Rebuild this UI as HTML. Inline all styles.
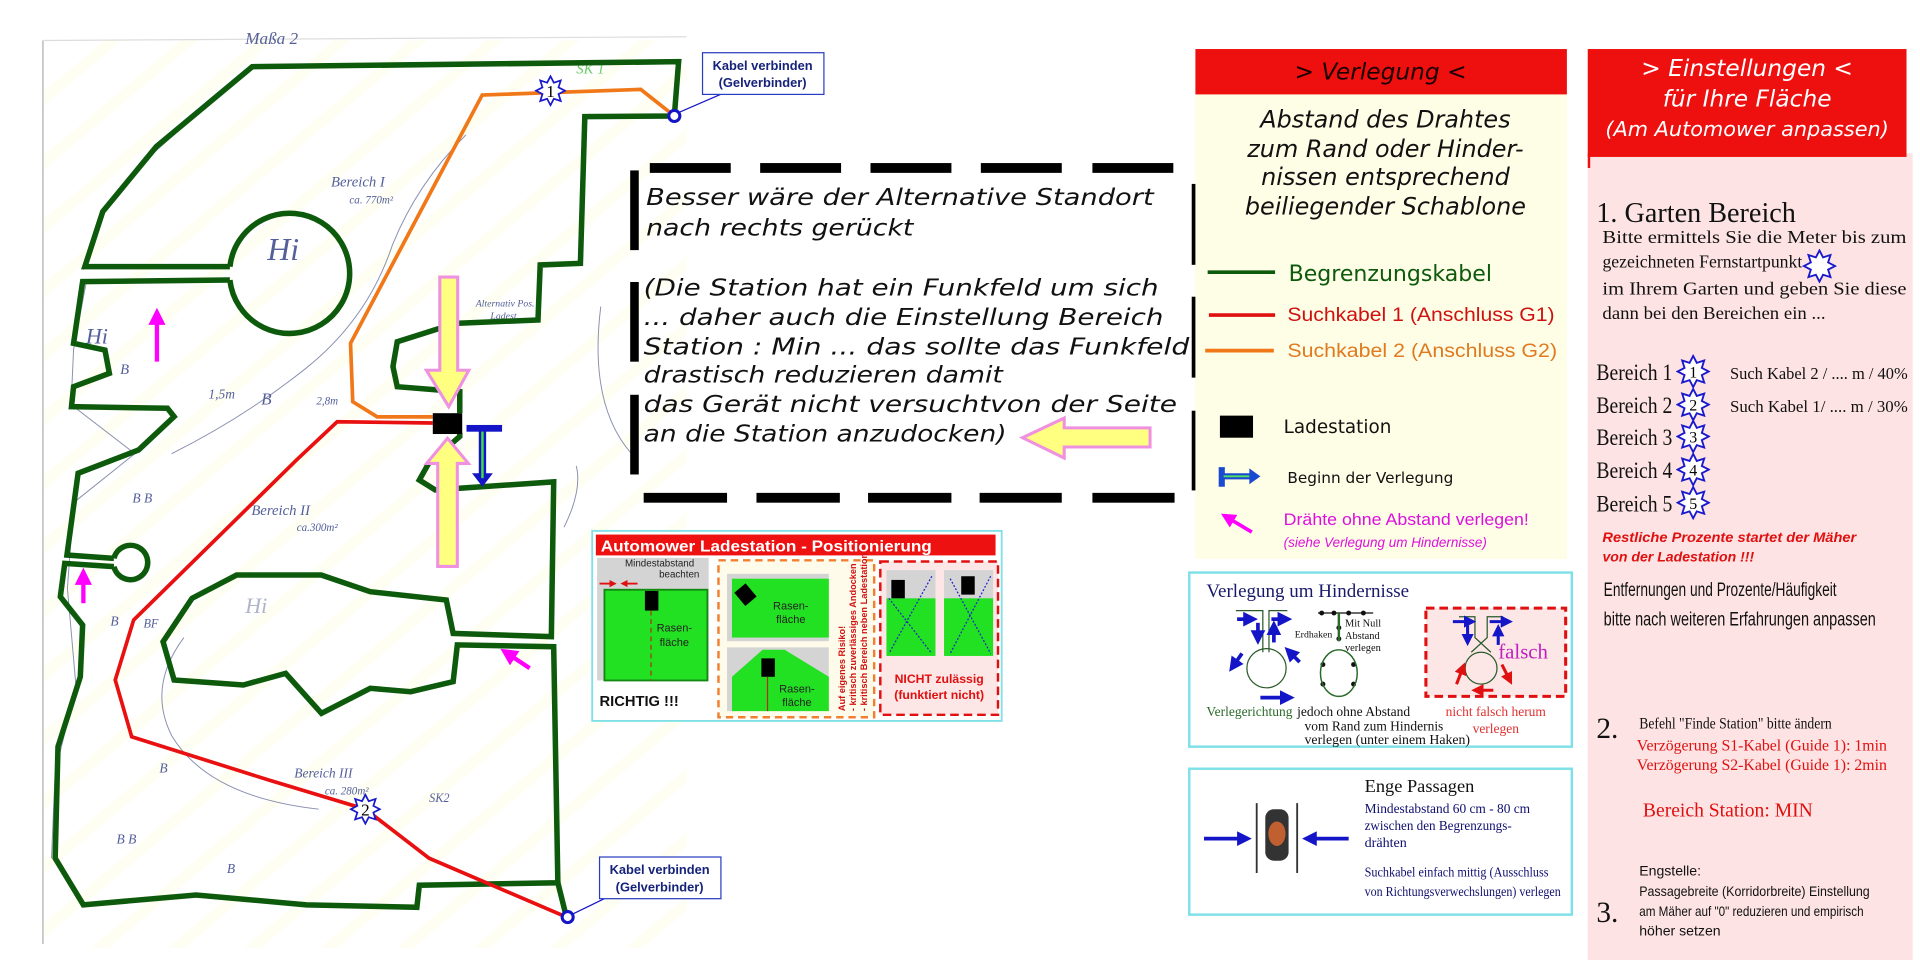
<!DOCTYPE html>
<html><head><meta charset="utf-8"><style>
html,body{margin:0;padding:0;background:#fff;width:1920px;height:960px;overflow:hidden}
svg{display:block}
.s{font-family:"DejaVu Sans","Liberation Sans",sans-serif}
.l{font-family:"Liberation Sans",sans-serif}
.r{font-family:"Liberation Serif",serif}
</style></head><body>
<svg width="1920" height="960" viewBox="0 0 1566 783" xmlns="http://www.w3.org/2000/svg">
<defs>
<symbol id="st" viewBox="-1.1 -1.1 2.2 2.2"><polygon points="0,-1 0.23,-0.554 0.707,-0.707 0.554,-0.23 1,0 0.554,0.23 0.707,0.707 0.23,0.554 0,1 -0.23,0.554 -0.707,0.707 -0.554,0.23 -1,0 -0.554,-0.23 -0.707,-0.707 -0.23,-0.554" fill="#fff" stroke="#1a1acc" stroke-width="0.12"/></symbol>
<pattern id="stripe" width="40" height="40" patternUnits="userSpaceOnUse" patternTransform="rotate(-40)"><rect width="40" height="40" fill="#fff"/><rect width="40" height="9" fill="#fefef2"/></pattern>
<marker id="mh" markerWidth="4" markerHeight="4" refX="2" refY="2" orient="auto"><path d="M0,0 L4,2 L0,4z" fill="#ff00ff"/></marker>
<marker id="bh" markerWidth="4" markerHeight="4" refX="2" refY="2" orient="auto"><path d="M0,0 L4,2 L0,4z" fill="#1515c8"/></marker>
<marker id="rh" markerWidth="4" markerHeight="4" refX="2" refY="2" orient="auto"><path d="M0,0 L4,2 L0,4z" fill="#e01010"/></marker>
</defs>

<rect x="35" y="33" width="525" height="740" fill="url(#stripe)"/>
<line x1="35" y1="33" x2="35" y2="770" stroke="#c8c8c8" stroke-width="1.5"/>
<line x1="35" y1="33" x2="560" y2="30" stroke="#ddd" stroke-width="1"/>

<g fill="none" stroke="#8a90b0" stroke-width="0.8">
<path d="M200,58 L125,125 L80,180 L68,220"/>
<path d="M70,232 L60,285 L58,330 L110,370 L60,410 L55,480 L62,560 L45,630 L42,700"/>
<path d="M140,370 Q200,340 250,300 Q300,260 320,200 Q340,150 380,110"/>
<path d="M150,520 Q120,560 140,600 Q170,650 260,660"/>
<path d="M490,250 Q480,330 515,370"/>
<path d="M460,430 Q475,400 470,380"/>
</g>
<g class="r" fill="#55609a" font-style="italic">
<text x="200" y="36" font-size="14">Maßa 2</text>
<text x="270" y="152" font-size="12">Bereich I</text>
<text x="285" y="166" font-size="9">ca. 770m²</text>
<text x="218" y="212" font-size="26">Hi</text>
<text x="70" y="280" font-size="18">Hi</text>
<text x="205" y="420" font-size="12">Bereich II</text>
<text x="242" y="433" font-size="9">ca.300m²</text>
<text x="200" y="500" font-size="18" fill="#b0b4c8">Hi</text>
<text x="117" y="512" font-size="10">BF</text>
<text x="240" y="634" font-size="11">Bereich III</text>
<text x="265" y="648" font-size="9">ca. 280m²</text>
<text x="350" y="654" font-size="10">SK2</text>
<text x="108" y="410" font-size="11">B  B</text>
<text x="90" y="510" font-size="11">B</text>
<text x="130" y="630" font-size="11">B</text>
<text x="95" y="688" font-size="11">B  B</text>
<text x="185" y="712" font-size="11">B</text>
<text x="170" y="325" font-size="11">1,5m</text>
<text x="213" y="330" font-size="14">B</text>
<text x="258" y="330" font-size="9">2,8m</text>
<text x="388" y="250" font-size="8">Alternativ Pos.</text>
<text x="400" y="260" font-size="8">Ladest.</text>
<text x="470" y="60" font-size="12" fill="#6c6">SK 1</text>
<text x="98" y="305" font-size="12">B</text>
</g>

<g fill="none" stroke="#0d5a0d" stroke-width="4.5" stroke-linejoin="miter">
<path d="M187.5,217.5 L69.2,217.5 L83.8,172.6 L127.5,119.6 L205.7,54.4 L553.5,50.3 L550,94.6 L477,95.1 L473.4,214.8 L440.6,216.1 L438.8,261 L371.4,263.7 L324,278.7 L320.5,299 L324,315.4 L375,319.5 L375,337"/>
<path d="M375,353 L375,356 L349.6,378 L342,391.5 L355,399.6 L451.6,393 L449.7,519.3 L369.6,516.6 L364,489.4 L302,482.6 L262,469 L193,469 L156.6,488 L133,523.4 L142,554.6 L198.5,558.7 L233,549.2 L262.2,581.8 L302,561.4 L335,564.2 L369.6,556 L373,526 L451.6,527.5 L455,720 L342,722 L340,740 L250,738 L160,730 L68,738 L45,700 L47.3,609 L65.5,552 L67.4,509.8 L49.2,486.7 L52.8,459.5 L92.9,462.2"/>
<path d="M92.9,455.4 L54.6,452.7 L63.7,386 L113,367 L142,339.8 L136.6,333 L58.3,331.7 L60,315.4 L89.2,304.5 L85.6,285.5 L60,280 L67.4,229.7 L187.5,228.4"/>
<path d="M187.5,217.5 A49,49 0 1 1 187.5,228.4"/>
<path d="M92.9,455.4 A14,14 0 1 1 92.9,462.2"/>
</g>
<line x1="455" y1="720" x2="462" y2="748" stroke="#0d5a0d" stroke-width="4.5"/>

<polyline points="353,340 307.7,340 287.7,327.6 285.9,280 393.3,77.5 522.6,72.9 550,94.6" fill="none" stroke="#f07818" stroke-width="3"/>
<polyline points="353,345 275,344 242,375 109,505.7 94,554.6 107.4,600.9 218.5,636 298,660 350,700 462,748" fill="none" stroke="#e81010" stroke-width="3"/>

<use href="#st" x="436" y="61" width="26" height="26"/>
<text x="449" y="79" class="r" font-size="14" text-anchor="middle">1</text>
<use href="#st" x="285" y="647" width="26" height="26"/>
<text x="298" y="665" class="r" font-size="14" text-anchor="middle">2</text>

<circle cx="550" cy="94.6" r="4.5" fill="#fff" stroke="#1515c8" stroke-width="2.5"/>
<line x1="553" y1="92" x2="590" y2="76" stroke="#1515c8" stroke-width="1"/>
<rect x="573" y="43" width="99" height="34" fill="#fff" stroke="#2a3cc0" stroke-width="1"/>
<text x="622" y="57" class="l" font-size="10.5" font-weight="bold" fill="#16237a" text-anchor="middle">Kabel verbinden</text>
<text x="622" y="71" class="l" font-size="10.5" font-weight="bold" fill="#16237a" text-anchor="middle">(Gelverbinder)</text>
<circle cx="463" cy="748" r="4.5" fill="#fff" stroke="#1515c8" stroke-width="2.5"/>
<line x1="466" y1="746" x2="495" y2="732" stroke="#1515c8" stroke-width="1"/>
<rect x="489" y="699" width="99" height="34" fill="#fff" stroke="#2a3cc0" stroke-width="1"/>
<text x="538" y="713" class="l" font-size="10.5" font-weight="bold" fill="#16237a" text-anchor="middle">Kabel verbinden</text>
<text x="538" y="727" class="l" font-size="10.5" font-weight="bold" fill="#16237a" text-anchor="middle">(Gelverbinder)</text>

<polygon points="358.7,226 373.3,226 373.3,302 382.4,302 366,331.7 347.8,302 358.7,302" fill="#ffff80" stroke="#f090e0" stroke-width="2.5"/>
<polygon points="357,462 373,462 373,378 382,378 365,357.5 348,378 357,378" fill="#ffff80" stroke="#f090e0" stroke-width="2.5"/>
<rect x="353" y="337" width="24" height="17" fill="#000"/>
<rect x="380.5" y="346.6" width="29" height="5.5" fill="#1515c8"/>
<rect x="390.5" y="350" width="6" height="38" fill="#1515c8"/>
<polygon points="385,386 402,386 393.5,397" fill="#1515c8"/>
<line x1="393.5" y1="352" x2="393.5" y2="390" stroke="#40e040" stroke-width="2"/>
<polygon points="938,349 938,364.6 868,364.6 868,373.6 834,357 868,341 868,349" fill="#ffff80" stroke="#f090e0" stroke-width="2.5"/>
<g stroke="#ff00ff" stroke-width="3.5" fill="none">
<line x1="128" y1="295" x2="128" y2="258" marker-end="url(#mh)"/>
<line x1="68" y1="492" x2="68" y2="470" marker-end="url(#mh)"/>
<line x1="432" y1="545" x2="414" y2="533" marker-end="url(#mh)"/>
</g>

<g fill="#000">
<rect x="530" y="133" width="66" height="8"/><rect x="620" y="133" width="66" height="8"/><rect x="710" y="133" width="66" height="8"/><rect x="800" y="133" width="66" height="8"/><rect x="891" y="133" width="66" height="8"/>
<rect x="525" y="402" width="68" height="8"/><rect x="617" y="402" width="68" height="8"/><rect x="708" y="402" width="68" height="8"/><rect x="799" y="402" width="67" height="8"/><rect x="891" y="402" width="67" height="8"/>
<rect x="514" y="139" width="7" height="65"/><rect x="514" y="230" width="7" height="65"/><rect x="514" y="322" width="7" height="65"/>
<rect x="972" y="150" width="8" height="66"/><rect x="972" y="242" width="8" height="66"/><rect x="972" y="335" width="8" height="65"/>
</g>
<g class="s" font-style="italic" font-size="19" fill="#111">
<text x="527" y="167" textLength="414" lengthAdjust="spacingAndGlyphs">Besser wäre der Alternative Standort</text>
<text x="527" y="192" textLength="218" lengthAdjust="spacingAndGlyphs">nach rechts gerückt</text>
<text x="525" y="241" textLength="420" lengthAdjust="spacingAndGlyphs">(Die Station hat ein Funkfeld um sich</text>
<text x="525" y="265" textLength="424" lengthAdjust="spacingAndGlyphs">... daher auch die Einstellung Bereich</text>
<text x="525" y="289" textLength="445" lengthAdjust="spacingAndGlyphs">Station : Min ... das sollte das Funkfeld</text>
<text x="525" y="312" textLength="293" lengthAdjust="spacingAndGlyphs">drastisch reduzieren damit</text>
<text x="525" y="336" textLength="435" lengthAdjust="spacingAndGlyphs">das  Gerät nicht versuchtvon der Seite</text>
<text x="525" y="360" textLength="296" lengthAdjust="spacingAndGlyphs">an die Station anzudocken)</text>
</g>

<rect x="483" y="433" width="334" height="155" fill="#fff" stroke="#7fe0e8" stroke-width="1.5"/>
<rect x="486" y="436" width="326" height="17" fill="#ee1111"/>
<text x="625" y="450" class="l" font-size="13" font-weight="bold" fill="#fff" text-anchor="middle" textLength="270" lengthAdjust="spacingAndGlyphs">Automower Ladestation - Positionierung</text>
<rect x="487" y="455" width="91" height="100" fill="#d4d4d4"/>
<rect x="493" y="481" width="84" height="74" fill="#22e022" stroke="#118811" stroke-width="1.5"/>
<rect x="526" y="482" width="11" height="16" fill="#000"/>
<line x1="531" y1="498" x2="531" y2="555" stroke="#b03010" stroke-width="1" stroke-dasharray="4,3"/>
<text x="538" y="462" class="l" font-size="8" fill="#222" text-anchor="middle">Mindestabstand</text>
<text x="554" y="471" class="l" font-size="8" fill="#222" text-anchor="middle">beachten</text>
<line x1="489" y1="476" x2="500" y2="476" stroke="#e01010" stroke-width="1.5" marker-end="url(#rh)"/>
<line x1="520" y1="476" x2="509" y2="476" stroke="#e01010" stroke-width="1.5" marker-end="url(#rh)"/>
<text x="550" y="515" class="l" font-size="9" fill="#222" text-anchor="middle">Rasen-</text>
<text x="550" y="527" class="l" font-size="9" fill="#222" text-anchor="middle">fläche</text>
<text x="489" y="576" class="l" font-size="12" font-weight="bold" fill="#111">RICHTIG !!!</text>
<rect x="586" y="457" width="127" height="128" fill="#fffbea" stroke="#f08030" stroke-width="2" stroke-dasharray="6,4"/>
<rect x="593" y="468" width="83" height="55" fill="#d4d4d4"/>
<rect x="597" y="472" width="79" height="48" fill="#22e022"/>
<rect x="602" y="478" width="12" height="14" fill="#000" transform="rotate(-40 608 485)"/>
<text x="645" y="497" class="l" font-size="9" fill="#222" text-anchor="middle">Rasen-</text>
<text x="645" y="508" class="l" font-size="9" fill="#222" text-anchor="middle">fläche</text>
<rect x="593" y="528" width="83" height="52" fill="#d4d4d4"/>
<polygon points="597,552 622,530 640,530 676,552 676,580 597,580" fill="#22e022"/>
<rect x="621" y="537" width="11" height="15" fill="#000"/>
<line x1="626" y1="552" x2="626" y2="580" stroke="#b03010" stroke-width="1"/>
<text x="650" y="565" class="l" font-size="9" fill="#222" text-anchor="middle">Rasen-</text>
<text x="650" y="576" class="l" font-size="9" fill="#222" text-anchor="middle">fläche</text>
<g class="l" font-size="7.5" font-weight="bold" fill="#d01010">
<text transform="translate(689,580) rotate(-90)">Auf eigenes Risiko!</text>
<text transform="translate(698,580) rotate(-90)">- kritisch zuverlässiges Andocken</text>
<text transform="translate(707,580) rotate(-90)">- kritisch Bereich neben Ladestation</text>
</g>
<rect x="718" y="458" width="96" height="125" fill="#fde6e6" stroke="#e01010" stroke-width="2" stroke-dasharray="7,4"/>
<rect x="723" y="465" width="40" height="70" fill="#d4d4d4"/><rect x="723" y="488" width="40" height="47" fill="#22e022"/>
<rect x="727" y="473" width="11" height="15" fill="#000"/>
<line x1="725" y1="488" x2="760" y2="533" stroke="#1a1acc" stroke-dasharray="1.5,1.5"/><line x1="760" y1="470" x2="725" y2="533" stroke="#1a1acc" stroke-dasharray="1.5,1.5"/>
<rect x="770" y="465" width="40" height="70" fill="#d4d4d4"/><rect x="770" y="488" width="40" height="47" fill="#22e022"/>
<rect x="784" y="470" width="11" height="15" fill="#000"/>
<line x1="775" y1="472" x2="808" y2="533" stroke="#1a1acc" stroke-dasharray="1.5,1.5"/><line x1="808" y1="470" x2="775" y2="533" stroke="#1a1acc" stroke-dasharray="1.5,1.5"/>
<text x="766" y="557" class="l" font-size="10" font-weight="bold" fill="#e01010" text-anchor="middle">NICHT zulässig</text>
<text x="766" y="570" class="l" font-size="10" font-weight="bold" fill="#e01010" text-anchor="middle">(funktiert nicht)</text>

<rect x="975" y="76" width="303" height="380" fill="#fefde6"/>
<rect x="975" y="40" width="303" height="37" fill="#ee0f0f"/>
<text x="1126" y="65" class="s" font-style="italic" font-size="19" fill="#1a0000" text-anchor="middle">&gt; Verlegung &lt;</text>
<g class="s" font-style="italic" font-size="19.5" fill="#111" text-anchor="middle">
<text x="1130" y="104">Abstand des Drahtes</text>
<text x="1130" y="128">zum Rand oder Hinder-</text>
<text x="1130" y="151">nissen entsprechend</text>
<text x="1130" y="175">beiliegender Schablone</text>
</g>
<line x1="985" y1="222" x2="1040" y2="222" stroke="#0d5a0d" stroke-width="3"/>
<text x="1051" y="229" class="s" font-size="18" fill="#0d5a0d">Begrenzungskabel</text>
<line x1="986" y1="257" x2="1040" y2="257" stroke="#e01010" stroke-width="3"/>
<text x="1050" y="262" class="l" font-size="15.5" fill="#d01010" textLength="218" lengthAdjust="spacingAndGlyphs">Suchkabel 1 (Anschluss G1)</text>
<line x1="983" y1="286" x2="1039" y2="286" stroke="#f07818" stroke-width="3"/>
<text x="1050" y="291" class="l" font-size="15.5" fill="#e07a20" textLength="220" lengthAdjust="spacingAndGlyphs">Suchkabel 2 (Anschluss G2)</text>
<rect x="995" y="339" width="27" height="18" fill="#000"/>
<text x="1047" y="353" class="s" font-size="15" fill="#111">Ladestation</text>
<rect x="994" y="381" width="5" height="16" fill="#1a4ad0"/>
<rect x="998" y="386" width="22" height="5" fill="#1a4ad0"/><line x1="998" y1="388.5" x2="1020" y2="388.5" stroke="#50e060" stroke-width="1.5"/>
<polygon points="1019,382 1028,388.5 1019,395" fill="#1a4ad0"/>
<text x="1050" y="394" class="s" font-size="12.5" fill="#111">Beginn der Verlegung</text>
<line x1="1021" y1="434" x2="1001" y2="422" stroke="#ff00ff" stroke-width="3" marker-end="url(#mh)"/>
<text x="1047" y="428" class="l" font-size="13.5" fill="#dd10dd" textLength="200" lengthAdjust="spacingAndGlyphs">Drähte ohne Abstand verlegen!</text>
<text x="1047" y="446" class="l" font-style="italic" font-size="11" fill="#dd10dd">(siehe Verlegung um Hindernisse)</text>

<rect x="970" y="467" width="312" height="142" fill="#fff" stroke="#7fe0e8" stroke-width="2"/>
<text x="984" y="487" class="r" font-size="15.5" fill="#1a1a6a">Verlegung um Hindernisse</text>
<g fill="none" stroke="#2a5a2a" stroke-width="1">
<path d="M1008,498 L1030,498 L1030,532"/><path d="M1050,498 L1035,498 L1035,532"/>
<circle cx="1033" cy="545" r="16"/>
</g>
<g stroke="#1515c8" stroke-width="3" fill="none">
<line x1="1009" y1="505" x2="1020" y2="505" marker-end="url(#bh)"/>
<line x1="1037" y1="505" x2="1048" y2="505" marker-end="url(#bh)"/>
<line x1="1026" y1="508" x2="1026" y2="520" marker-end="url(#bh)"/>
<line x1="1039" y1="524" x2="1039" y2="512" marker-end="url(#bh)"/>
<line x1="1013" y1="533" x2="1006" y2="543" marker-end="url(#bh)"/>
<line x1="1060" y1="540" x2="1052" y2="532" marker-end="url(#bh)"/>
<line x1="1028" y1="569" x2="1050" y2="569" marker-end="url(#bh)"/>
</g>
<text x="984" y="584" class="r" font-size="11" fill="#2a6a2a">Verlegerichtung</text>
<line x1="1075" y1="500" x2="1120" y2="500" stroke="#111" stroke-width="1"/>
<g fill="#111"><circle cx="1078" cy="500" r="2"/><circle cx="1088" cy="500" r="2"/><circle cx="1100" cy="500" r="2"/><circle cx="1112" cy="500" r="2"/><circle cx="1092" cy="512" r="2"/><circle cx="1092" cy="521" r="2"/><circle cx="1079" cy="542" r="2"/><circle cx="1104" cy="542" r="2"/><circle cx="1079" cy="558" r="2"/><circle cx="1104" cy="558" r="2"/></g>
<line x1="1092" y1="500" x2="1092" y2="523" stroke="#2a6a2a" stroke-width="2"/>
<ellipse cx="1092" cy="549" rx="15" ry="19" fill="none" stroke="#2a6a2a" stroke-width="1.2"/>
<text x="1097" y="511" class="r" font-size="8.5" fill="#111">Mit Null</text>
<text x="1097" y="521" class="r" font-size="8.5" fill="#111">Abstand</text>
<text x="1097" y="531" class="r" font-size="8.5" fill="#111">verlegen</text>
<text x="1056" y="520" class="r" font-size="8" fill="#111">Erdhaken</text>
<g class="r" font-size="11" fill="#111"><text x="1058" y="584">jedoch ohne Abstand</text><text x="1064" y="596">vom Rand zum Hindernis</text><text x="1064" y="607" textLength="135" lengthAdjust="spacingAndGlyphs">verlegen (unter einem Haken)</text></g>
<rect x="1163" y="496" width="114" height="72" fill="#fde6e6" stroke="#e01010" stroke-width="2.5" stroke-dasharray="7,4"/>
<path d="M1190,503 L1203,503 L1203,520 L1216,532 M1226,503 L1213,503 L1213,520 L1200,532" fill="none" stroke="#2a5a2a"/>
<circle cx="1208" cy="545" r="13" fill="none" stroke="#2a5a2a"/>
<g stroke-width="2.5" fill="none">
<line x1="1185" y1="507" x2="1199" y2="507" stroke="#1515c8" marker-end="url(#bh)"/>
<line x1="1215" y1="507" x2="1229" y2="507" stroke="#1515c8" marker-end="url(#bh)"/>
<line x1="1197" y1="510" x2="1197" y2="522" stroke="#1515c8" marker-end="url(#bh)"/>
<line x1="1222" y1="526" x2="1222" y2="514" stroke="#1515c8" marker-end="url(#bh)"/>
<line x1="1188" y1="558" x2="1193" y2="545" stroke="#e01010" marker-end="url(#rh)"/>
<line x1="1225" y1="542" x2="1231" y2="554" stroke="#e01010" marker-end="url(#rh)"/>
<line x1="1218" y1="563" x2="1205" y2="563" stroke="#e01010" marker-end="url(#rh)"/>
</g>
<text x="1222" y="537" class="r" font-size="17" fill="#c020c0">falsch</text>
<text x="1220" y="584" class="r" font-size="11" fill="#e03030" text-anchor="middle">nicht falsch herum</text>
<text x="1220" y="598" class="r" font-size="11" fill="#e03030" text-anchor="middle">verlegen</text>

<rect x="970" y="627" width="312" height="119" fill="#fff" stroke="#7fe0e8" stroke-width="2"/>
<line x1="1025" y1="655" x2="1025" y2="712" stroke="#333" stroke-width="1.5"/>
<line x1="1058" y1="655" x2="1058" y2="712" stroke="#333" stroke-width="1.5"/>
<rect x="1032" y="660" width="19" height="42" rx="7" fill="#333"/>
<ellipse cx="1041.5" cy="680" rx="7" ry="10" fill="#c06030"/>
<g stroke="#1515c8" stroke-width="3">
<line x1="982" y1="684" x2="1015" y2="684" marker-end="url(#bh)"/>
<line x1="1100" y1="684" x2="1068" y2="684" marker-end="url(#bh)"/>
</g>
<text x="1113" y="646" class="r" font-size="15" fill="#111">Enge Passagen</text>
<g class="r" font-size="11.5" fill="#101070"><text x="1113" y="663" textLength="135" lengthAdjust="spacingAndGlyphs">Mindestabstand 60 cm - 80 cm</text><text x="1113" y="677" textLength="120" lengthAdjust="spacingAndGlyphs">zwischen den Begrenzungs-</text><text x="1113" y="691">drähten</text><text x="1113" y="715" textLength="150" lengthAdjust="spacingAndGlyphs">Suchkabel einfach mittig (Ausschluss</text><text x="1113" y="731" textLength="160" lengthAdjust="spacingAndGlyphs">von Richtungsverwechslungen) verlegen</text></g>

<rect x="1295" y="125" width="265" height="658" fill="#fde3e3"/>
<rect x="1295" y="40" width="260" height="88" fill="#ee0f0f"/>
<rect x="1295" y="125" width="2" height="12" fill="#ee0f0f"/>
<g class="s" font-style="italic" fill="#fff" text-anchor="middle">
<text x="1425" y="62" font-size="19">&gt; Einstellungen &lt;</text>
<text x="1425" y="87" font-size="19">für Ihre Fläche</text>
<text x="1425" y="111" font-size="17">(Am Automower anpassen)</text>
</g>
<text x="1302" y="181" class="r" font-size="23" fill="#111">1. Garten Bereich</text>
<g class="r" font-size="14.5" fill="#111">
<text x="1307" y="198" textLength="248" lengthAdjust="spacingAndGlyphs">Bitte ermittels Sie die Meter bis zum</text>
<text x="1307" y="218" textLength="163" lengthAdjust="spacingAndGlyphs">gezeichneten Fernstartpunkt</text>
<text x="1307" y="240" textLength="248" lengthAdjust="spacingAndGlyphs">im Ihrem Garten und geben Sie diese</text>
<text x="1307" y="260" textLength="182" lengthAdjust="spacingAndGlyphs">dann bei den Bereichen ein ...</text>
</g>
<use href="#st" x="1470" y="203" width="28" height="28"/>
<g class="r" font-size="19" fill="#111">
<text x="1302" y="310" textLength="62" lengthAdjust="spacingAndGlyphs">Bereich 1</text><text x="1302" y="337" textLength="62" lengthAdjust="spacingAndGlyphs">Bereich 2</text><text x="1302" y="363" textLength="62" lengthAdjust="spacingAndGlyphs">Bereich 3</text><text x="1302" y="390" textLength="62" lengthAdjust="spacingAndGlyphs">Bereich 4</text><text x="1302" y="417" textLength="62" lengthAdjust="spacingAndGlyphs">Bereich 5</text>
</g>
<g class="r" font-size="13" text-anchor="middle">
<use href="#st" x="1367" y="289" width="28" height="28"/><text x="1381" y="308">1</text>
<use href="#st" x="1367" y="316" width="28" height="28"/><text x="1381" y="335">2</text>
<use href="#st" x="1367" y="342" width="28" height="28"/><text x="1381" y="361">3</text>
<use href="#st" x="1367" y="369" width="28" height="28"/><text x="1381" y="388">4</text>
<use href="#st" x="1367" y="396" width="28" height="28"/><text x="1381" y="415">5</text>
</g>
<text x="1411" y="309" class="r" font-size="14" fill="#111" textLength="145" lengthAdjust="spacingAndGlyphs">Such Kabel 2 / .... m / 40%</text>
<text x="1411" y="336" class="r" font-size="14" fill="#111" textLength="145" lengthAdjust="spacingAndGlyphs">Such Kabel 1/ .... m / 30%</text>
<text x="1307" y="442" class="l" font-style="italic" font-weight="bold" font-size="11.5" fill="#e01010" textLength="207" lengthAdjust="spacingAndGlyphs">Restliche Prozente  startet der Mäher</text>
<text x="1307" y="458" class="l" font-style="italic" font-weight="bold" font-size="11.5" fill="#e01010">von der Ladestation !!!</text>
<text x="1308" y="486" class="l" font-size="16" fill="#111" textLength="190" lengthAdjust="spacingAndGlyphs">Entfernungen und Prozente/Häufigkeit</text>
<text x="1308" y="510" class="l" font-size="16" fill="#111" textLength="222" lengthAdjust="spacingAndGlyphs">bitte nach weiteren Erfahrungen anpassen</text>
<text x="1302" y="602" class="r" font-size="24" fill="#111">2.</text>
<text x="1337" y="594" class="r" font-size="12.5" fill="#111" textLength="157" lengthAdjust="spacingAndGlyphs">Befehl "Finde Station" bitte ändern</text>
<text x="1335" y="612" class="r" font-size="13" fill="#e01010" textLength="204" lengthAdjust="spacingAndGlyphs">Verzögerung S1-Kabel (Guide 1): 1min</text>
<text x="1335" y="628" class="r" font-size="13" fill="#e01010" textLength="204" lengthAdjust="spacingAndGlyphs">Verzögerung S2-Kabel (Guide 1): 2min</text>
<text x="1340" y="666" class="r" font-size="16" fill="#e01010">Bereich Station: MIN</text>
<text x="1302" y="752" class="r" font-size="24" fill="#111">3.</text>
<g class="l" font-size="11.5" fill="#111">
<text x="1337" y="714">Engstelle:</text>
<text x="1337" y="731" textLength="188" lengthAdjust="spacingAndGlyphs">Passagebreite (Korridorbreite) Einstellung</text>
<text x="1337" y="747" textLength="183" lengthAdjust="spacingAndGlyphs">am Mäher auf "0" reduzieren und empirisch</text>
<text x="1337" y="763">höher setzen</text>
</g>
</svg>
</body></html>
